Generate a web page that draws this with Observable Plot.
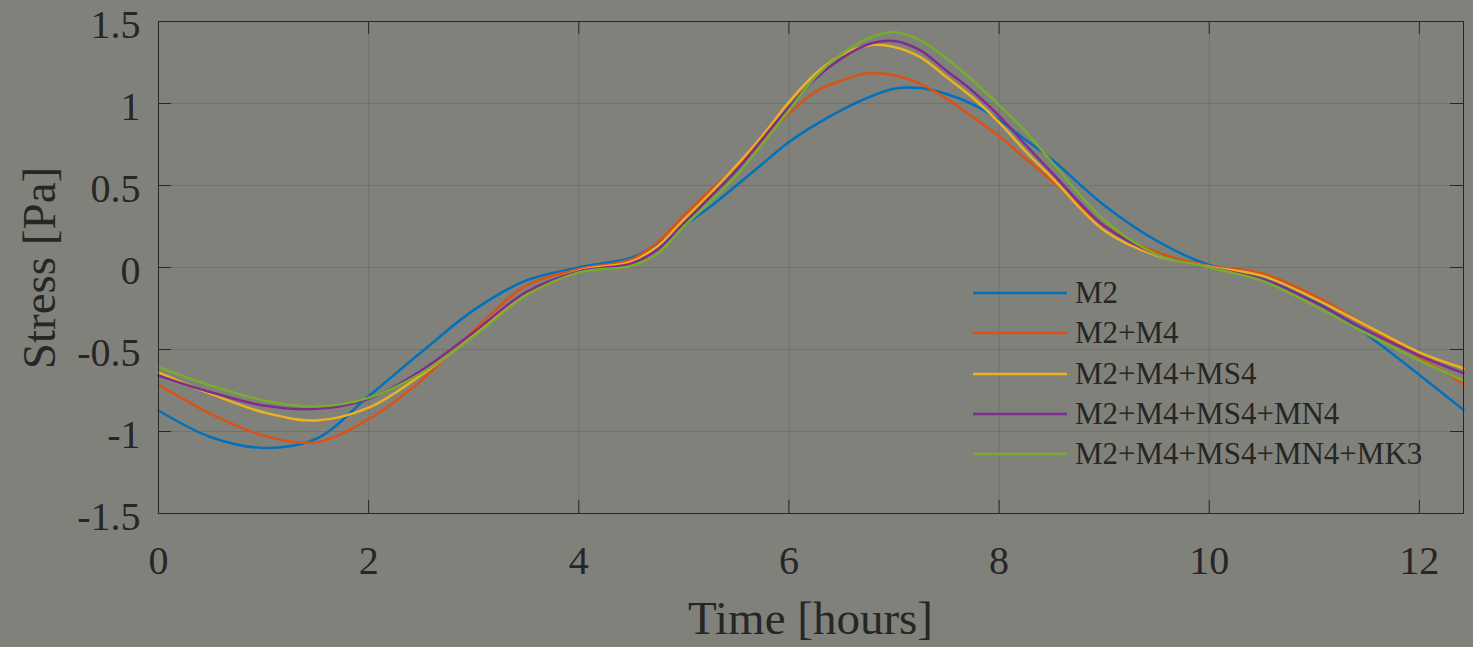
<!DOCTYPE html>
<html>
<head>
<meta charset="utf-8">
<script src="https://cdn.jsdelivr.net/npm/d3@7"></script>
<script src="https://cdn.jsdelivr.net/npm/@observablehq/plot@0.6"></script>
<style>
  html, body { margin: 0; padding: 0; background: #80817a; }
  #wrap { position: relative; width: 1473px; height: 647px; background: #80817a; overflow: hidden;
          font-family: "Liberation Serif", "Times New Roman", serif; color: #262626; }
  #wrap > svg { position: absolute; left: 0; top: 0; }
  .xtitle { position: absolute; left: 0; width: 1473px; padding-left: 148px; box-sizing: border-box; text-align: center;
            top: 593px; font-size: 47px; line-height: 50px; }
  .ytitle { position: absolute; left: 39px; top: 268px; font-size: 47px; line-height: 50px; white-space: nowrap;
            transform: translate(-50%, -50%) rotate(-90deg); }
  .legend { position: absolute; left: 973px; top: 273px; }
  .lrow { display: flex; align-items: center; height: 40.25px; }
  .lrow svg { display: block; }
  .lrow span { font-size: 31px; margin-left: 8px; line-height: 40px; }
</style>
</head>
<body>
<div id="wrap"></div>
<script>
// ---- data ----
const time = [0, 0.5, 1, 1.5, 2, 2.5, 3, 3.5, 4, 4.5, 4.75, 5, 5.25, 5.5, 5.75, 6, 6.25, 6.5, 6.75, 7, 7.25, 7.5, 7.75, 8, 8.25, 8.5, 9, 9.5, 10, 10.5, 11, 11.5, 12, 12.42];
const m2 = [-0.872, -1.035, -1.10, -1.045, -0.785, -0.517, -0.26, -0.079, 0.0, 0.06, 0.145, 0.255, 0.37, 0.50, 0.633, 0.765, 0.87, 0.96, 1.035, 1.09, 1.094, 1.058, 0.995, 0.90, 0.78, 0.66, 0.38, 0.163, 0.015, -0.055, -0.20, -0.41, -0.655, -0.868];
const m2m4 = [-0.714, -0.893, -1.025, -1.066, -0.925, -0.69, -0.384, -0.11, -0.01, 0.05, 0.155, 0.317, 0.47, 0.612, 0.775, 0.938, 1.07, 1.14, 1.185, 1.172, 1.12, 1.03, 0.917, 0.80, 0.665, 0.53, 0.254, 0.093, 0.01, -0.035, -0.171, -0.354, -0.545, -0.71];
const m2m4ms4 = [-0.639, -0.771, -0.883, -0.933, -0.855, -0.655, -0.415, -0.16, -0.02, 0.035, 0.13, 0.29, 0.45, 0.622, 0.805, 1.008, 1.18, 1.295, 1.354, 1.345, 1.283, 1.161, 1.035, 0.885, 0.71, 0.55, 0.226, 0.073, 0.005, -0.05, -0.19, -0.354, -0.517, -0.614];
const m2m4ms4mn4 = [-0.659, -0.761, -0.842, -0.862, -0.80, -0.628, -0.395, -0.15, -0.024, 0.025, 0.11, 0.27, 0.43, 0.592, 0.785, 0.978, 1.151, 1.275, 1.36, 1.381, 1.324, 1.20, 1.075, 0.925, 0.75, 0.58, 0.254, 0.08, 0.0, -0.07, -0.211, -0.384, -0.537, -0.645];
const m2m4ms4mn4mk3 = [-0.608, -0.72, -0.811, -0.848, -0.795, -0.645, -0.42, -0.171, -0.03, 0.01, 0.085, 0.25, 0.40, 0.56, 0.755, 0.958, 1.161, 1.30, 1.395, 1.436, 1.385, 1.275, 1.14, 0.99, 0.83, 0.645, 0.29, 0.08, 0.0, -0.08, -0.232, -0.405, -0.567, -0.69];
const seriesNames = ["M2", "M2+M4", "M2+M4+MS4", "M2+M4+MS4+MN4", "M2+M4+MS4+MN4+MK3"];
const seriesColors = ["#0072BD", "#D95319", "#EDB120", "#7E2F8E", "#77AC30"];
const xTicks = [0, 2, 4, 6, 8, 10, 12];
const yTicks = [-1.5, -1, -0.5, 0, 0.5, 1, 1.5];
const xDomain = [0, 12.42];
const yDomain = [-1.5, 1.5];
const xLabel = "Time [hours]";
const yLabel = "Stress [Pa]";

// ---- build table ----
const seriesValues = [m2, m2m4, m2m4ms4, m2m4ms4mn4, m2m4ms4mn4mk3];
const rows = [];
seriesValues.forEach((vals, i) => {
  vals.forEach((v, j) => rows.push({t: time[j], v, s: seriesNames[i]}));
});

const W = 1473, H = 647, mL = 158, mR = 10, mT = 21, mB = 134;
const pw = W - mL - mR, ph = H - mT - mB;
const axisColor = "#262626";
const fontFamily = '"Liberation Serif", "Times New Roman", serif';

const chart = Plot.plot({
  width: W, height: H,
  marginLeft: mL, marginRight: mR, marginTop: mT, marginBottom: mB,
  style: {background: "transparent", fontFamily, color: axisColor, overflow: "visible"},
  x: {domain: xDomain},
  y: {domain: yDomain},
  color: {domain: seriesNames, range: seriesColors},
  marks: [
    Plot.gridX(xTicks, {stroke: axisColor, strokeOpacity: 0.15, strokeWidth: 1}),
    Plot.gridY(yTicks, {stroke: axisColor, strokeOpacity: 0.15, strokeWidth: 1}),
    Plot.line(rows, {x: "t", y: "v", z: "s", stroke: "s", strokeWidth: 2.5, curve: "catmull-rom"}),
    Plot.axisX(xTicks, {tickSize: 0, tickPadding: 32, tickFormat: d => String(d), fontSize: 40, label: null, fill: axisColor}),
    Plot.axisY(yTicks, {tickSize: 0, tickPadding: 18, dy: 4, tickFormat: d => String(d), fontSize: 40, label: null, fill: axisColor}),
    Plot.tickY(yTicks, {y: d => d, stroke: axisColor, insetRight: pw - 13}),
    Plot.tickY(yTicks, {y: d => d, stroke: axisColor, insetLeft: pw - 13}),
    Plot.tickX(xTicks, {x: d => d, stroke: axisColor, insetTop: ph - 13}),
    Plot.tickX(xTicks, {x: d => d, stroke: axisColor, insetBottom: ph - 13}),
    Plot.frame({stroke: axisColor, strokeWidth: 1})
  ]
});

const wrap = document.getElementById("wrap");
wrap.appendChild(chart);

const xt = document.createElement("div");
xt.className = "xtitle";
xt.textContent = xLabel;
wrap.appendChild(xt);

const yt = document.createElement("div");
yt.className = "ytitle";
yt.textContent = yLabel;
wrap.appendChild(yt);

const leg = document.createElement("div");
leg.className = "legend";
seriesNames.forEach((name, i) => {
  const row = document.createElement("div");
  row.className = "lrow";
  const sw = d3.create("svg").attr("width", 94).attr("height", 6);
  sw.append("line").attr("x1", 0).attr("x2", 94).attr("y1", 3).attr("y2", 3)
    .attr("stroke", seriesColors[i]).attr("stroke-width", 2.5);
  row.appendChild(sw.node());
  const sp = document.createElement("span");
  sp.textContent = name;
  row.appendChild(sp);
  leg.appendChild(row);
});
wrap.appendChild(leg);
</script>
</body>
</html>
